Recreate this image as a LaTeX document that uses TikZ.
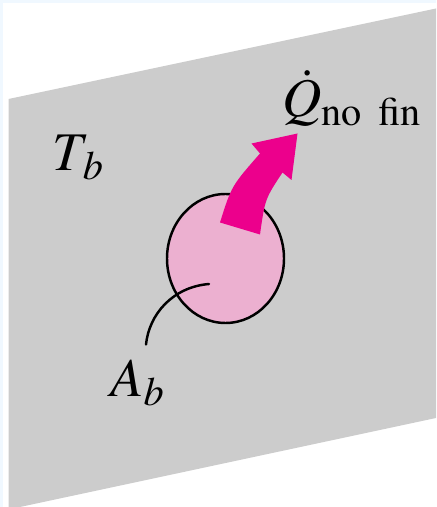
\documentclass[tikz,border=0pt]{standalone}
\usepackage{mathptmx}
\usetikzlibrary{shapes.geometric}
\definecolor{platecolor}{HTML}{CCCCCC}
\definecolor{heatcolor}{HTML}{EC008C}
\definecolor{basecolor}{HTML}{ECB0D0}
\definecolor{edgecolor}{HTML}{F0F8FF}
\tikzset{
    bigmath/.style={inner sep=0pt, font=\fontsize{31}{36}\selectfont},
    leader/.style={line width=1.4pt, line cap=round}
}
\begin{document}
\begin{tikzpicture}
    \useasboundingbox (0,0) rectangle (8.72,10.14);

    % Pale strips along the top and left of the page
    \fill[edgecolor] (0,0) rectangle (0.06,10.14);
    \fill[edgecolor] (0,10.08) rectangle (8.72,10.14);

    % Wall surface
    \fill[platecolor] (0.17,0) -- (0.17,8.16) -- (8.72,9.97) -- (8.72,1.78) -- (0.4,0) -- cycle;

    % Base area of the absent fin
    \node[ellipse, draw, fill=basecolor, line width=1.4pt, inner sep=0pt,
          minimum width=2.34cm, minimum height=2.58cm] (base) at (4.51,4.97) {};

    % Heat flow arrow
    \fill[heatcolor] (4.40,5.69) -- (5.20,5.45) .. controls (5.30,6.16) .. (5.65,6.69)
        -- (5.83,6.54) -- (5.95,7.47) -- (5.03,7.27) -- (5.20,7.07)
        .. controls (4.63,6.42) .. cycle;

    % Labels
    \node[bigmath] (tb) at (1.56,6.98) {$T_{\,b}$};
    \node[bigmath] (ab) at (2.75,2.48) {$A_b$};
    \node[bigmath] (qdot) at (7.04,8.17) {$\dot{Q}_{\mathrm{no\ fin}}$};

    % Leader from the label into the disc
    \coordinate (leaderend) at (4.18,4.46);
    \coordinate (leaderstart) at (2.92,3.25);
    \draw[leader] (leaderstart) .. controls (2.98,3.85) and (3.45,4.4) .. (leaderend);
\end{tikzpicture}
\end{document}
